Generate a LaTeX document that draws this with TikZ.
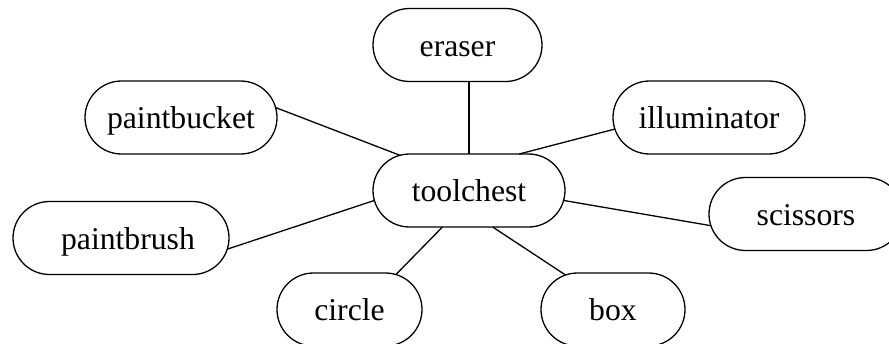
\documentclass[tikz,border=0pt]{standalone}
\usepackage{fontspec}
\setmainfont{Liberation Serif}
\usetikzlibrary{shapes.misc}
\begin{document}
\begin{tikzpicture}[x=1pt,y=-1pt,
  item/.style={rounded rectangle, draw, line width=1.3pt, minimum height=73pt,
    inner sep=0pt, outer sep=0pt, text height=26pt, text depth=4pt,
    font=\fontsize{31.7}{38}\selectfont},
  link/.style={line width=1.3pt}]
\useasboundingbox (0,0) rectangle (889,343);
\node[item, minimum width=192pt] (tc) at (469,190.5) {toolchest};
\node[item, minimum width=169pt] (er) at (457.5,45) {eraser};
\node[item, minimum width=192pt] (pb) at (181,117.5) {paintbucket};
\node[item, minimum width=192pt] (il) at (709,117.5) {illuminator};
\node[item, minimum width=194pt] (sc) at (806,214) {scissors};
\node[item, minimum width=216pt] (br) at (121,238) {\hspace{14pt}paintbrush};
\node[item, minimum width=145pt] (ci) at (349.5,309.5) {circle};
\node[item, minimum width=144pt] (bx) at (613,309.5) {box};
\draw[link] (er.south -| tc.north) -- (tc.north);
\draw[link] (pb.6) -- (tc.153);
\draw[link] (il.187) -- (tc.36);
\draw[link] (sc.187) -- (tc.354);
\draw[link] (br.354) -- (tc.186);
\draw[link] (ci.37) -- (tc.234);
\draw[link] (bx.144) -- (tc.303);
\end{tikzpicture}
\end{document}
